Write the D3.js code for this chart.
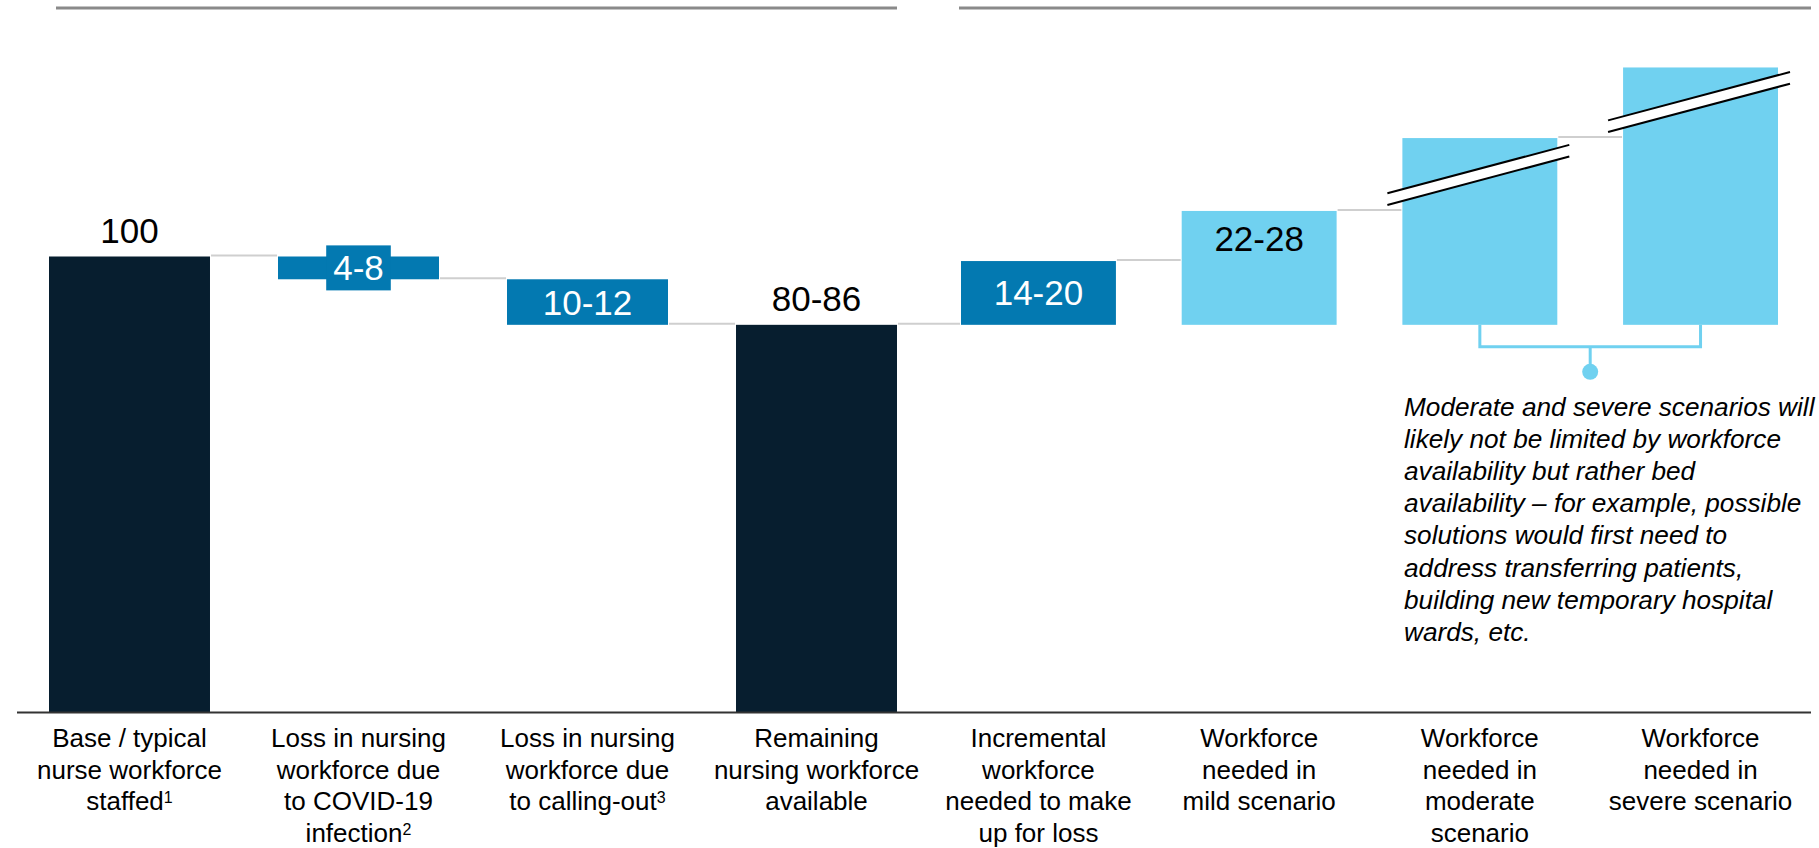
<!DOCTYPE html>
<html>
<head>
<meta charset="utf-8">
<script src="https://cdn.jsdelivr.net/npm/d3@7"></script>
<style>
  html, body { margin: 0; padding: 0; background: #fff; overflow: hidden; }
  svg { display: block; font-family: "Liberation Sans", Arial, sans-serif; }
</style>
</head>
<body>
<svg id="chart" width="1819" height="848"></svg>
<script>
// ---- data ---------------------------------------------------------------
const categories = ["base", "lossInfection", "lossCallOut", "remaining",
                    "incremental", "mild", "moderate", "severe"];

const categoryLines = [
  ["Base / typical", "nurse workforce", "staffed"],
  ["Loss in nursing", "workforce due", "to COVID-19", "infection"],
  ["Loss in nursing", "workforce due", "to calling-out"],
  ["Remaining", "nursing workforce", "available"],
  ["Incremental", "workforce", "needed to make", "up for loss"],
  ["Workforce", "needed in", "mild scenario"],
  ["Workforce", "needed in", "moderate", "scenario"],
  ["Workforce", "needed in", "severe scenario"]
];
const footnotes = ["1", "2", "3", "", "", "", "", ""];

// bar size per step (index = 100 nurses)
const values = [100, 5, 10, 85, 14, 25, 41, 56.5];
const kinds = ["total", "loss", "loss", "total", "gain", "scenario", "scenario", "scenario"];
const valueLabels = ["100", "4-8", "10-12", "80-86", "14-20", "22-28", "", ""];
// axis-break position (in index units) for truncated bars
const breakValues = [null, null, null, null, null, null, 118, 134];

const noteLines = [
  "Moderate and severe scenarios will",
  "likely not be limited by workforce",
  "availability but rather bed",
  "availability \u2013 for example, possible",
  "solutions would first need to",
  "address transferring patients,",
  "building new temporary hospital",
  "wards, etc."
];

// ---- setup --------------------------------------------------------------
const W = 1819, H = 848;
const colors = { total: "#071e2f", loss: "#0379b1", gain: "#0379b1", scenario: "#70d1f0" };
const svg = d3.select("#chart");
svg.append("rect").attr("width", W).attr("height", H).attr("fill", "#fff");

const groupA = categories.slice(0, 4);
const groupB = categories.slice(4);
const xA = d3.scaleBand().domain(groupA).range([49, 897]).paddingInner(0.297).paddingOuter(0);
const xB = d3.scaleBand().domain(groupB).range([961, 1778]).paddingInner(0.298).paddingOuter(0);
const xOf = c => groupA.includes(c) ? xA(c) : xB(c);
const bwOf = c => groupA.includes(c) ? xA.bandwidth() : xB.bandwidth();

const y = d3.scaleLinear().domain([0, 100]).range([712, 256.5]);

// waterfall spans
let level = 0, base = 0;
const bars = values.map((v, i) => {
  const k = kinds[i];
  let lo, hi, conn;
  if (k === "total") { lo = 0; hi = v; level = v; base = v; conn = v; }
  else if (k === "loss") { lo = level - v; hi = level; level -= v; conn = lo; }
  else { lo = base; hi = base + v; conn = hi; }
  const c = categories[i];
  return { c, i, k, lo, hi, conn, x: xOf(c), w: bwOf(c), label: valueLabels[i], brk: breakValues[i] };
});

// ---- header rules -------------------------------------------------------
const headerY = 8;
svg.append("line")
  .attr("x1", xA(groupA[0]) + 7).attr("x2", xA(groupA[3]) + xA.bandwidth())
  .attr("y1", headerY).attr("y2", headerY)
  .attr("stroke", "#8a8a8a").attr("stroke-width", 3);
svg.append("line")
  .attr("x1", xB(groupB[0]) - 2).attr("x2", W - 8)
  .attr("y1", headerY).attr("y2", headerY)
  .attr("stroke", "#8a8a8a").attr("stroke-width", 3);

// ---- connectors ---------------------------------------------------------
svg.append("g").selectAll("line").data(bars.slice(0, -1)).join("line")
  .attr("x1", d => d.x + d.w + 1)
  .attr("x2", d => bars[d.i + 1].x - 1)
  .attr("y1", d => y(d.conn) - 1).attr("y2", d => y(d.conn) - 1)
  .attr("stroke", "#cfcfcf").attr("stroke-width", 2);

// ---- bars ---------------------------------------------------------------
svg.append("g").selectAll("rect").data(bars).join("rect")
  .attr("x", d => d.x).attr("width", d => d.w)
  .attr("y", d => y(d.hi)).attr("height", d => y(d.lo) - y(d.hi))
  .attr("fill", d => colors[d.k]);

// ---- axis breaks on truncated bars --------------------------------------
const slope = -0.266, gap = 11.7;
const brkG = svg.append("g");
bars.filter(d => d.brk != null).forEach(d => {
  const cx = d.x + d.w / 2, cy = y(d.brk);
  const x0 = d.x - 15, x1 = d.x + d.w + 12;
  const yAt = (x, off) => cy + off + slope * (x - cx);
  brkG.append("polygon")
    .attr("points", [[x0, yAt(x0, -gap / 2)], [x1, yAt(x1, -gap / 2)],
                     [x1, yAt(x1, gap / 2)], [x0, yAt(x0, gap / 2)]].join(" "))
    .attr("fill", "#fff");
  [-gap / 2, gap / 2].forEach(off => {
    brkG.append("line")
      .attr("x1", x0).attr("y1", yAt(x0, off))
      .attr("x2", x1).attr("y2", yAt(x1, off))
      .attr("stroke", "#000").attr("stroke-width", 2);
  });
});

// ---- value labels -------------------------------------------------------
const lblG = svg.append("g").attr("font-size", 35).attr("text-anchor", "middle");
bars.filter(d => d.label).forEach(d => {
  const cx = d.x + d.w / 2;
  const top = y(d.hi), bot = y(d.lo);
  if (d.k === "total") {
    lblG.append("text").attr("x", cx).attr("y", top - 14).attr("fill", "#000").text(d.label);
  } else if (d.k === "scenario") {
    lblG.append("text").attr("x", cx).attr("y", top + 40).attr("fill", "#000").text(d.label);
  } else {
    const mid = (top + bot) / 2;
    const t = lblG.append("text").attr("x", cx).attr("y", mid + 12.5)
      .attr("fill", "#fff").text(d.label);
    if (bot - top < 30) {
      const bb = t.node().getBBox();
      lblG.insert("rect", () => t.node())
        .attr("x", cx - bb.width / 2 - 7).attr("width", bb.width + 14)
        .attr("y", mid - 22.5).attr("height", 45)
        .attr("fill", colors[d.k]);
    }
  }
});

// ---- baseline -----------------------------------------------------------
svg.append("line")
  .attr("x1", 17).attr("x2", W - 8)
  .attr("y1", y(0) + 0.5).attr("y2", y(0) + 0.5)
  .attr("stroke", "#333").attr("stroke-width", 2);

// ---- category labels ----------------------------------------------------
const catG = svg.append("g").attr("font-size", 26).attr("text-anchor", "middle").attr("fill", "#000");
categories.forEach((c, i) => {
  const cx = xOf(c) + bwOf(c) / 2;
  categoryLines[i].forEach((line, j) => {
    const t = catG.append("text").attr("x", cx).attr("y", 747 + j * 31.6);
    t.append("tspan").text(line);
    if (j === categoryLines[i].length - 1 && footnotes[i]) {
      t.append("tspan").attr("font-size", 16).attr("dy", -7).text(footnotes[i]);
    }
  });
});

// ---- bracket + note -----------------------------------------------------
const bracketColor = "#70d1f0";
const bm = bars[6], bs = bars[7];
const bx1 = bm.x + bm.w / 2, bx2 = bs.x + bs.w / 2;
const bTop = y(bm.lo), bY = bTop + 22, bMid = (bx1 + bx2) / 2;
svg.append("path")
  .attr("d", `M${bx1},${bTop}V${bY}H${bx2}V${bTop}M${bMid},${bY}V${bY + 24}`)
  .attr("fill", "none").attr("stroke", bracketColor).attr("stroke-width", 3);
svg.append("circle").attr("cx", bMid).attr("cy", bY + 25).attr("r", 8).attr("fill", bracketColor);

const noteG = svg.append("g").attr("font-size", 26.2).attr("font-style", "italic").attr("fill", "#000");
noteLines.forEach((line, j) => {
  noteG.append("text").attr("x", 1404).attr("y", 416 + j * 32.1).text(line);
});
</script>
</body>
</html>
